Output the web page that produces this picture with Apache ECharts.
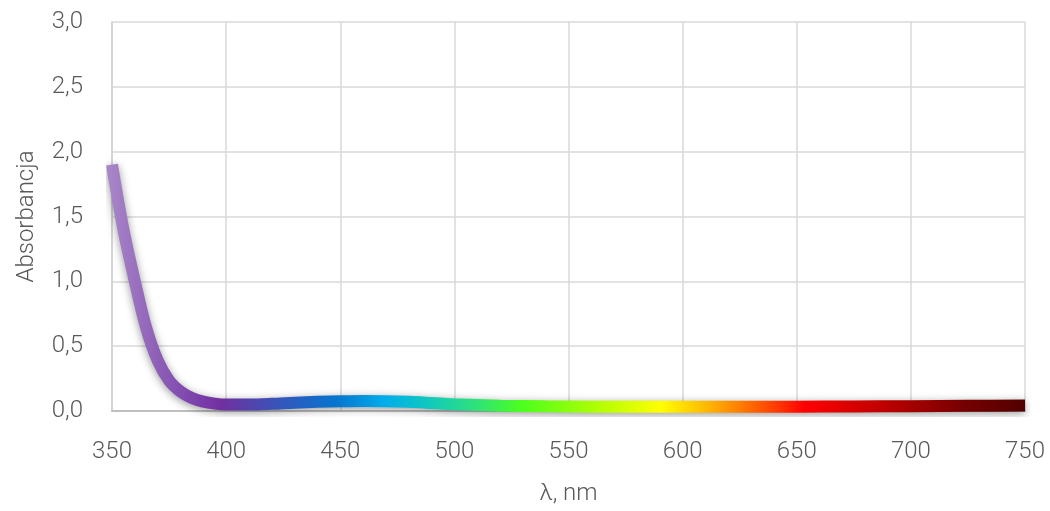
<!DOCTYPE html>
<html>
<head>
<meta charset="utf-8">
<script src="https://cdn.jsdelivr.net/npm/echarts@6/dist/echarts.min.js"></script>
<style>html,body{margin:0;padding:0;background:#fff}#c{width:1050px;height:511px}</style>
</head>
<body>
<div id="c"></div>
<script>
const wavelengths = [350,355,360,365,370,375,380,385,390,395,400,410,420,430,440,450,460,470,480,490,500,520,540,560,580,600,625,650,675,700,725,750];
const absorbance = [1.90,1.40,1.00,0.64,0.39,0.235,0.15,0.10,0.072,0.057,0.05,0.05,0.055,0.064,0.071,0.075,0.077,0.076,0.071,0.062,0.052,0.041,0.036,0.033,0.032,0.032,0.032,0.033,0.035,0.037,0.040,0.042];
const yTicks = [0,0.5,1,1.5,2,2.5,3];
const xTicks = [350,400,450,500,550,600,650,700,750];
const spectrumStops = [
  [350,'#a988c8'],[385,'#7f48ae'],[400,'#7030a0'],[430,'#2a5cbf'],[450,'#0676cf'],
  [470,'#00aceb'],[490,'#12c9bd'],[510,'#2ee27a'],[530,'#4cff1e'],[565,'#b8ff00'],
  [590,'#ffff00'],[612,'#ffb000'],[640,'#ff3a00'],[652,'#ff0000'],[685,'#c00000'],
  [720,'#780000'],[750,'#4e0000']
];
const chart = echarts.init(document.getElementById('c'));
const font = 'Roboto, "Liberation Sans", sans-serif';
chart.setOption({
  animation:false,
  grid:{left:112,right:25,top:22,bottom:100},
  xAxis:{
    type:'value',min:350,max:750,interval:50,
    name:'λ, nm',nameLocation:'middle',nameGap:71,
    nameTextStyle:{color:'#595959',fontSize:24,fontFamily:font,fontWeight:300},
    axisLine:{show:true,lineStyle:{color:'#bfbfbf',width:2}},
    axisTick:{show:false},
    axisLabel:{color:'#595959',fontSize:24,fontFamily:font,fontWeight:300,margin:29},
    splitLine:{show:true,lineStyle:{color:'#d9d9d9',width:1.5}}
  },
  yAxis:{
    type:'value',min:0,max:3,interval:0.5,
    name:'Absorbancja',nameLocation:'middle',nameGap:73,nameRotate:90,
    nameTextStyle:{color:'#595959',fontSize:24,fontFamily:font,fontWeight:300},
    axisLine:{show:true,lineStyle:{color:'#d0d0d0',width:1.5}},
    axisTick:{show:false},
    axisLabel:{color:'#595959',fontSize:24,fontFamily:font,fontWeight:300,margin:29,
      formatter:v=>v.toFixed(1).replace('.',',')},
    splitLine:{show:true,lineStyle:{color:'#d9d9d9',width:1.5}}
  },
  series:[{
    type:'line',smooth:0.35,showSymbol:false,
    data:wavelengths.map((w,i)=>[w,absorbance[i]]),
    lineStyle:{
      width:12,
      shadowColor:'rgba(0,0,0,0.4)',shadowBlur:8,shadowOffsetY:2,
      color:new echarts.graphic.LinearGradient(0,0,1,0,
        spectrumStops.map(s=>({offset:(s[0]-350)/400,color:s[1]})))
    }
  }]
});
</script>
</body>
</html>
